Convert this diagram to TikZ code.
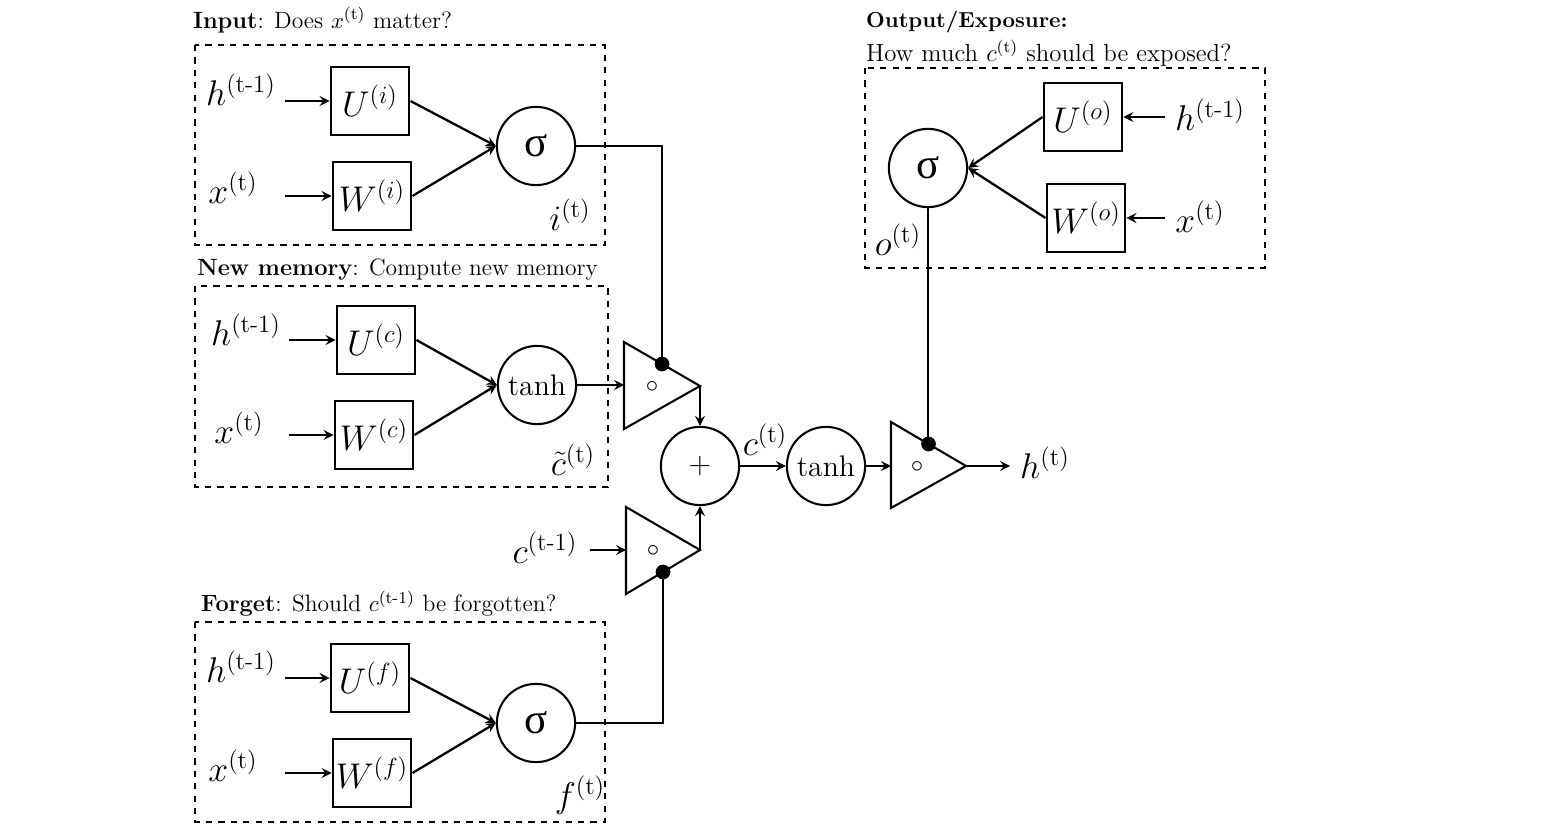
\documentclass[tikz,border=0pt]{standalone}
\usepackage{amsmath}
\usepackage{fontspec}
\newfontfamily\greekfont{Liberation Serif}
\usetikzlibrary{calc}
\newcommand{\sigmasym}{{\greekfont σ}}
\begin{document}
\begin{tikzpicture}[->, >=stealth, x=0.017cm, y=-0.017cm, line width=1.1pt]
    \tikzstyle{weight}=[rectangle, draw, line width=1pt, minimum width=1.34cm, minimum height=1.17cm, inner sep=0pt, font=\LARGE]
    \tikzstyle{unit}=[circle, draw, line width=1pt, minimum size=1.33cm, inner sep=0pt]
    \tikzstyle{var}=[font=\LARGE, inner sep=1pt]
    \tikzstyle{gatebox}=[draw, dashed, line width=0.8pt, -]
    \tikzstyle{title}=[anchor=west, font=\fontsize{11.4}{14}\selectfont, inner sep=0pt]
    \tikzstyle{dot}=[circle, fill, minimum size=0.25cm, inner sep=0pt]
    \tikzstyle{prod}=[font=\large, inner sep=0pt]
    \useasboundingbox (0,0) rectangle (1561,829);

    % input gate
    \draw[gatebox] (195,45) rectangle (605,245);
    \node[title] (ttlin) at (192,20) {\textbf{Input}: Does $x^{(\mathrm{t})}$ matter?};
    \node[var] (hi) at (241,90) {$h^{(\text{t-1})}$};
    \node[var] (xi) at (233,188) {$x^{(\mathrm{t})}$};
    \node[weight] (ui) at (370,101) {$U^{(i)}$};
    \node[weight] (wi) at (372,196) {$W^{(i)}$};
    \node[unit, font=\huge] (si) at (536,146) {\sigmasym};
    \node[var] (it) at (570,215) {$i^{(\mathrm{t})}$};
    \coordinate (hia) at (285,101);
    \coordinate (xia) at (285,196);
    \draw (hia) -- (ui.west);
    \draw (xia) -- (wi.west);
    \draw (ui.east) -- (si.west);
    \draw (wi.east) -- (si.west);

    % new memory
    \draw[gatebox] (195,286) rectangle (608,487);
    \node[title] (ttlmem) at (196,270) {\textbf{New memory}: Compute new memory};
    \node[var] (hc) at (246,330) {$h^{(\text{t-1})}$};
    \node[var] (xc) at (239,428) {$x^{(\mathrm{t})}$};
    \node[weight] (uc) at (376,340) {$U^{(c)}$};
    \node[weight] (wc) at (374,435) {$W^{(c)}$};
    \node[unit, font=\Large] (tc) at (537,385) {tanh};
    \node[var] (ct) at (573,460) {$\tilde{c}^{(\mathrm{t})}$};
    \coordinate (hca) at (289,340);
    \coordinate (xca) at (289,435);
    \draw (hca) -- (uc.west);
    \draw (xca) -- (wc.west);
    \draw (uc.east) -- (tc.west);
    \draw (wc.east) -- (tc.west);

    % forget gate
    \draw[gatebox] (195,622) rectangle (605,822);
    \node[title] (ttlfg) at (200,604) {\textbf{Forget}: Should $c^{(\text{t-1})}$ be forgotten?};
    \node[var] (hf) at (241,667) {$h^{(\text{t-1})}$};
    \node[var] (xf) at (233,766) {$x^{(\mathrm{t})}$};
    \node[weight] (uf) at (370,678) {$U^{(f)}$};
    \node[weight] (wf) at (372,773) {$W^{(f)}$};
    \node[unit, font=\huge] (sf) at (536,723) {\sigmasym};
    \node[var] (ft) at (580,795) {$f^{(\mathrm{t})}$};
    \coordinate (hfa) at (285,678);
    \coordinate (xfa) at (285,773);
    \draw (hfa) -- (uf.west);
    \draw (xfa) -- (wf.west);
    \draw (uf.east) -- (sf.west);
    \draw (wf.east) -- (sf.west);

    % output gate
    \draw[gatebox] (865,68) rectangle (1265,268);
    \node[title, font=\fontsize{10.5}{13}\selectfont\bfseries] (ttlout) at (865,22) {Output/Exposure:};
    \node[title, font=\fontsize{12}{14}\selectfont] (ttlout2) at (865,53) {How much $c^{(\mathrm{t})}$ should be exposed?};
    \node[var] (ho) at (1210,115) {$h^{(\text{t-1})}$};
    \node[var] (xo) at (1200,217) {$x^{(\mathrm{t})}$};
    \node[weight] (uo) at (1083,117) {$U^{(o)}$};
    \node[weight] (wo) at (1086,218) {$W^{(o)}$};
    \node[unit, font=\huge] (so) at (928,168) {\sigmasym};
    \node[var] (ot) at (898,240) {$o^{(\mathrm{t})}$};
    \coordinate (hoa) at (1165,117);
    \coordinate (xoa) at (1165,218);
    \draw (hoa) -- (uo.east);
    \draw (xoa) -- (wo.east);
    \draw (uo.west) -- (so.east);
    \draw (wo.west) -- (so.east);

    % product gates
    \coordinate (g1a) at (624,342);
    \coordinate (g1b) at (624,429);
    \coordinate (g1c) at (700,386);
    \coordinate (g1in) at (624,385);
    \draw[-, line width=1pt] (g1a) -- (g1c) -- (g1b) -- cycle;
    \node[prod] (m1) at (652,387) {$\circ$};
    \node[dot] (d1) at ($(g1a)!0.5!(g1c)$) {};

    \coordinate (g2a) at (626,507);
    \coordinate (g2b) at (626,594);
    \coordinate (g2c) at (700,550);
    \coordinate (g2in) at (626,550);
    \draw[-, line width=1pt] (g2a) -- (g2c) -- (g2b) -- cycle;
    \node[prod] (m2) at (653,551) {$\circ$};
    \node[dot] (d2) at ($(g2b)!0.5!(g2c)$) {};

    \coordinate (g3a) at (891,422);
    \coordinate (g3b) at (891,508);
    \coordinate (g3c) at (966,466);
    \coordinate (g3in) at (891,466);
    \draw[-, line width=1pt] (g3a) -- (g3c) -- (g3b) -- cycle;
    \node[prod] (m3) at (917,467) {$\circ$};
    \node[dot] (d3) at ($(g3a)!0.5!(g3c)$) {};

    % memory cell
    \node[unit, font=\Large] (plus) at (700,466) {$+$};
    \node[unit, font=\Large] (th) at (826,466) {tanh};
    \node[var] (cnew) at (765,440) {$c^{(\mathrm{t})}$};
    \node[var] (cold) at (545,548) {$c^{(\text{t-1})}$};
    \node[var] (hnew) at (1045,463) {$h^{(\mathrm{t})}$};
    \coordinate (cpa) at (590,550);
    \coordinate (hend) at (1010,466);

    \draw[-] (si.east) -| (d1.center);
    \draw[-] (sf.east) -| (d2.center);
    \draw[-] (so.south) -- (so.south |- d3.center);
    \draw (tc.east) -- (g1in);
    \draw (cpa) -- (g2in);
    \draw (g1c) -- (plus.north);
    \draw (g2c) -- (plus.south);
    \draw (plus.east) -- (th.west);
    \draw (th.east) -- (g3in);
    \draw (g3c) -- (hend);
\end{tikzpicture}
\end{document}
